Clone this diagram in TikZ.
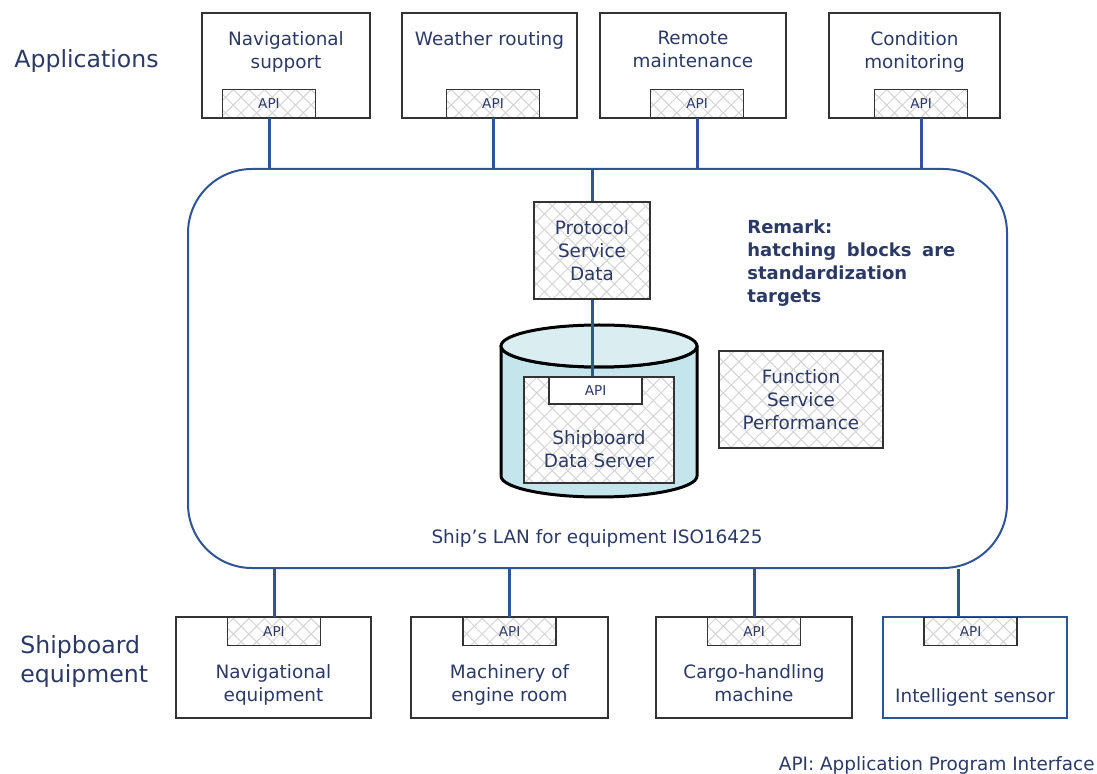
\documentclass[tikz,border=0pt]{standalone}
\usepackage{fontspec}
\setmainfont{DejaVu Sans}
\usetikzlibrary{positioning, patterns.meta}

\definecolor{inkblue}{RGB}{43,57,101}
\definecolor{lanblue}{RGB}{47,84,150}
\definecolor{cyltop}{RGB}{218,238,242}
\definecolor{cylbody}{RGB}{196,229,235}
\definecolor{hatchgray}{RGB}{212,212,212}

\tikzset{
  plainbox/.style={draw=black!80, line width=0.6pt, inner sep=0pt},
  hatch/.style={draw=black!80, line width=0.6pt, inner sep=0pt,
    preaction={fill=white},
    preaction={pattern={Lines[angle=45,distance=5.5pt,line width=0.5pt]}, pattern color=hatchgray},
    preaction={pattern={Lines[angle=-45,distance=5.5pt,line width=0.5pt]}, pattern color=hatchgray}},
  apibox/.style={hatch, minimum width=46.5pt, minimum height=14pt, text=inkblue,
    font=\fontsize{6.8}{8}\selectfont},
  txt/.style={text=inkblue, align=center, font=\fontsize{9.2}{11.5}\selectfont},
  link/.style={draw=lanblue, line width=1.5pt},
}

\begin{document}
\begin{tikzpicture}[x=0.5pt, y=-0.5pt]
    \useasboundingbox (0,0) rectangle (1097,774);

    % Side labels
    \node[txt, font=\fontsize{11.8}{14.5}\selectfont, anchor=west, inner sep=0pt] (applab) at (14,61) {Applications};
    \node[txt, font=\fontsize{11.8}{14.5}\selectfont, anchor=west, align=left, inner sep=0pt] (eqlab) at (20,661) {Shipboard\\equipment};

    % Ship's LAN
    \node[draw=lanblue, line width=1pt, rounded corners=32pt, minimum width=409.5pt, minimum height=199.5pt] (lan) at (597.5,368.5) {};
    \node[txt] (lantext) at (597,538) {Ship’s LAN for equipment ISO16425};

    % Applications
    \node[plainbox, minimum width=84pt, minimum height=52.5pt] (navsup) at (286,65.5) {};
    \node[plainbox, minimum width=87.5pt, minimum height=52.5pt] (weather) at (489.5,65.5) {};
    \node[plainbox, minimum width=93pt, minimum height=52.5pt] (remote) at (693,65.5) {};
    \node[plainbox, minimum width=85.5pt, minimum height=52.5pt] (condmon) at (914.5,65.5) {};

    \node[txt, below=6pt of navsup.north] (navsup-t) {Navigational\\support};
    \node[txt, below=6pt of weather.north] (weather-t) {Weather routing};
    \node[txt, below=6pt of remote.north] (remote-t) {Remote\\maintenance};
    \node[txt, below=6pt of condmon.north] (condmon-t) {Condition\\monitoring};

    \node[apibox, anchor=south] (navsup-api) at (269,118) {API};
    \node[apibox, anchor=south] (weather-api) at (493,118) {API};
    \node[apibox, anchor=south] (remote-api) at (697,118) {API};
    \node[apibox, anchor=south] (condmon-api) at (921,118) {API};

    \foreach \app in {navsup, weather, remote, condmon}
        \draw[link] (\app-api.south) -- (\app-api.south |- lan.north);

    % Protocol block and data server
    \node[hatch, txt, minimum width=58pt, minimum height=48.5pt] (proto) at (592,250.5) {Protocol\\Service\\Data};
    \draw[link] (proto.north) -- (proto.north |- lan.north);

    \draw[line width=1.5pt, line join=round, fill=cylbody] (501,346) -- (501,476)
        arc[start angle=180, end angle=0, x radius=98, y radius=21] -- (697,346)
        arc[start angle=0, end angle=180, x radius=98, y radius=21] -- cycle;
    \draw[line width=1.5pt, fill=cyltop] (599,346) ellipse[x radius=98, y radius=21];

    \node[hatch, minimum width=75pt, minimum height=53pt] (server) at (599,430) {};
    \node[txt] (server-t) at (599,449) {Shipboard\\Data Server};
    \node[plainbox, fill=white, minimum width=46.5pt, minimum height=13.5pt, text=inkblue,
        font=\fontsize{6.8}{8}\selectfont] (server-api) at (595.5,390.5) {API};
    \draw[link] (proto.south) -- (proto.south |- server-api.north);

    \node[hatch, txt, minimum width=82pt, minimum height=48.5pt] (func) at (801,399.5) {Function\\Service\\Performance};

    % Remark
    \node[txt, font=\fontsize{9}{11.5}\selectfont\bfseries, align=left, anchor=north west,
        inner sep=0pt, text width=104pt] (remark) at (747,219)
        {Remark:\\hatching\hfill blocks\hfill are\\standardization\\targets};

    % Shipboard equipment
    \node[plainbox, minimum width=97.5pt, minimum height=50.5pt] (naveq) at (273.5,667.5) {};
    \node[plainbox, minimum width=98.5pt, minimum height=50.5pt] (machine) at (509.5,667.5) {};
    \node[plainbox, minimum width=98pt, minimum height=50.5pt] (cargo) at (754,667.5) {};
    \node[plainbox, draw=lanblue, minimum width=92pt, minimum height=50.5pt] (sensor) at (975,667.5) {};

    \node[txt, above=3pt of naveq.south] (naveq-t) {Navigational\\equipment};
    \node[txt, above=3pt of machine.south] (machine-t) {Machinery of\\engine room};
    \node[txt, above=5pt of cargo.south] (cargo-t) {Cargo-handling\\machine};
    \node[txt, above=2.5pt of sensor.south] (sensor-t) {Intelligent sensor};

    \node[apibox, anchor=north] (naveq-api) at (274,617) {API};
    \node[apibox, anchor=north] (machine-api) at (509.5,617) {API};
    \node[apibox, anchor=north] (cargo-api) at (754,617) {API};
    \node[apibox, anchor=north] (sensor-api) at (970.5,617) {API};

    \foreach \eq in {naveq, machine, cargo}
        \draw[link] (\eq-api.north) -- (\eq-api.north |- lan.south);
    \coordinate (sensor-in) at ([xshift=-6pt]sensor-api.north);
    \draw[link] (sensor-in) -- (sensor-in |- lan.south);

    % Footnote
    \node[txt, anchor=east, inner sep=0pt] (footnote) at (1095,765) {API: Application Program Interface};
\end{tikzpicture}
\end{document}
